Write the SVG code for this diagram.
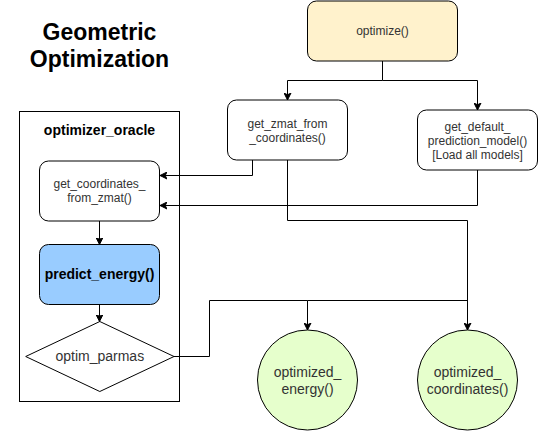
<svg xmlns="http://www.w3.org/2000/svg" width="538" height="431" viewBox="0 0 538 431">
<defs>
<marker id="arr" markerWidth="8" markerHeight="8" refX="7" refY="4" orient="auto" markerUnits="userSpaceOnUse">
<path d="M0,0.5 L7,4 L0,7.5 L1.8,4 Z" fill="#000" stroke="#000" stroke-width="1"/>
</marker>
</defs>
<style>
.box{stroke:#000;stroke-width:1}
.t{font-family:"Liberation Sans",Arial,sans-serif;font-size:12px;fill:#333;text-anchor:middle}
.t14{font-family:"Liberation Sans",Arial,sans-serif;font-size:14px;fill:#333;text-anchor:middle}
.b{font-family:"Liberation Sans",Arial,sans-serif;font-weight:bold;fill:#000;text-anchor:middle}
.c{fill:none;stroke:#000;stroke-width:1}
</style>
<rect width="538" height="431" fill="#fff"/>
<g id="title">
<text class="b" font-size="23" x="99.5" y="40">Geometric</text>
<text class="b" font-size="23" x="99.5" y="67">Optimization</text>
</g>
<g id="optimizer_oracle">
<rect class="box" x="19.5" y="111.5" width="160" height="290" fill="#fff"/>
<text class="b" font-size="14" x="99.5" y="135">optimizer_oracle</text>
</g>
<g id="optimize">
<rect class="box" x="307.5" y="1" width="150" height="60" rx="9" fill="#fff2cc"/>
<text class="t" x="382.5" y="35">optimize()</text>
</g>
<g id="get_zmat_from_coordinates">
<rect class="box" x="227.5" y="100" width="120" height="60" rx="9" fill="#fff"/>
<text class="t" x="287.5" y="128">get_zmat_from</text>
<text class="t" x="287.5" y="142">_coordinates()</text>
</g>
<g id="get_default_prediction_model">
<rect class="box" x="417.5" y="110" width="120" height="60" rx="9" fill="#fff"/>
<text class="t" x="477.5" y="131">get_default_</text>
<text class="t" x="477.5" y="145">prediction_model()</text>
<text class="t" x="477.5" y="159">[Load all models]</text>
</g>
<g id="get_coordinates_from_zmat">
<rect class="box" x="39.5" y="161" width="120" height="60" rx="9" fill="#fff"/>
<text class="t" x="99.5" y="188">get_coordinates_</text>
<text class="t" x="99.5" y="202">from_zmat()</text>
</g>
<g id="predict_energy">
<rect class="box" x="39.5" y="244.5" width="120" height="60" rx="9" fill="#99ccff"/>
<text class="b" font-size="14" x="99.5" y="279">predict_energy()</text>
</g>
<g id="optim_parmas">
<polygon class="box" points="99.8,321.5 174,356.5 99.8,391.5 25.7,356.5" fill="#fff"/>
<text class="t14" x="99.8" y="361">optim_parmas</text>
</g>
<g id="optimized_energy">
<circle class="box" cx="307.5" cy="380" r="50" fill="#e6ffcc"/>
<text class="t14" x="307.5" y="377">optimized_</text>
<text class="t14" x="307.5" y="394">energy()</text>
</g>
<g id="optimized_coordinates">
<circle class="box" cx="467.5" cy="380" r="50" fill="#e6ffcc"/>
<text class="t14" x="467.5" y="377">optimized_</text>
<text class="t14" x="467.5" y="394">coordinates()</text>
</g>
<g id="connectors">
<path class="c" d="M382.5,61 V80.5 H287.5 V100" marker-end="url(#arr)"/>
<path class="c" d="M382.5,80.5 H477.5 V110" marker-end="url(#arr)"/>
<path class="c" d="M252.5,160 V175.5 H160" marker-end="url(#arr)"/>
<path class="c" d="M477.5,170 V205.5 H160" marker-end="url(#arr)"/>
<path class="c" d="M287.5,160 V220.5 H467.5 V330" marker-end="url(#arr)"/>
<path class="c" d="M99.5,221 V244.5" marker-end="url(#arr)"/>
<path class="c" d="M99.5,304.5 V321.5" marker-end="url(#arr)"/>
<path class="c" d="M174,356.5 H209.5 V300.5 H307.5 V330" marker-end="url(#arr)"/>
<path class="c" d="M307.5,300.5 H467.5"/>
</g>
</svg>
